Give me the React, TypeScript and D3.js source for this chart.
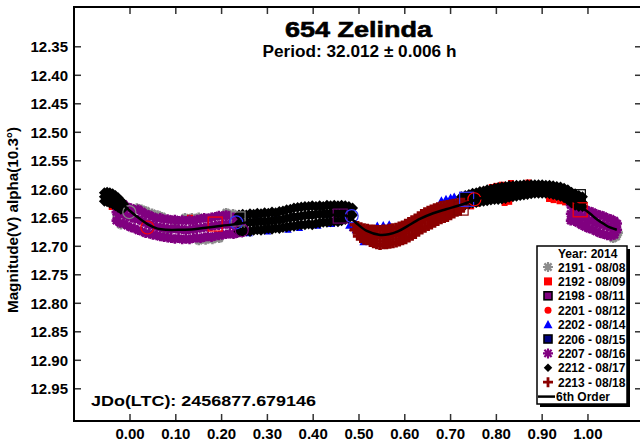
import React from "react";
import * as d3 from "d3";

// ---------- data ----------
const xTicks = [0, 0.1, 0.2, 0.3, 0.4, 0.5, 0.6, 0.7, 0.8, 0.9, 1.0];
const yTicks = [12.35, 12.4, 12.45, 12.5, 12.55, 12.6, 12.65, 12.7, 12.75, 12.8, 12.85, 12.9, 12.95];
const sessions = ["2191 - 08/08", "2192 - 08/09", "2198 - 08/11", "2201 - 08/12", "2202 - 08/14", "2206 - 08/15", "2207 - 08/16", "2212 - 08/17", "2213 - 08/18"];

// rows: [phase, mag, mag, ...]
const s2191: number[][] = [
  [-0.028, 12.647], [-0.020, 12.662], [0.015, 12.633], [0.025, 12.635], [0.035, 12.638], [0.048, 12.642],
  [0.060, 12.645], [0.070, 12.648], [0.120, 12.650], [0.135, 12.650], [0.150, 12.649, 12.690], [0.165, 12.689],
  [0.180, 12.688], [0.195, 12.686], [0.210, 12.641], [0.225, 12.643], [0.236, 12.650], [0.100, 12.668],
  [0.080, 12.675], [0.968, 12.650], [0.975, 12.652], [1.055, 12.686], [1.062, 12.683], [1.066, 12.676],
];
const s2192: number[][] = [
  [-0.056, 12.612], [-0.040, 12.631], [-0.013, 12.626], [0.131, 12.650],
  [0.735, 12.628], [0.745, 12.630], [0.765, 12.604], [0.775, 12.601], [0.790, 12.596], [0.800, 12.594],
  [0.812, 12.592], [0.832, 12.589], [0.818, 12.624], [0.828, 12.622], [0.915, 12.617], [0.925, 12.619],
  [0.938, 12.621], [0.950, 12.623], [0.870, 12.588],
];
const s2198: number[][] = [[0.452, 12.650], [0.462, 12.646], [0.470, 12.652]];
const s2201: number[][] = [[0.132, 12.651], [0.760, 12.626]];
const s2202: number[][] = [
  [0.260, 12.677], [0.300, 12.674], [0.345, 12.671], [0.370, 12.668], [0.410, 12.664], [0.440, 12.661],
  [0.478, 12.664], [0.486, 12.668], [0.492, 12.672], [0.509, 12.693], [0.540, 12.663], [0.553, 12.662],
  [0.566, 12.661], [0.659, 12.654], [0.680, 12.619], [0.690, 12.616], [0.700, 12.614], [0.708, 12.612],
  [0.721, 12.610],
];
const s2206: number[][] = [[0.280, 12.655], [0.320, 12.652], [0.360, 12.648], [0.400, 12.645], [0.430, 12.644], [0.470, 12.645]];
const s2207: number[][] = [
  [-0.030, 12.624, 12.640, 12.655], [-0.022, 12.627, 12.643, 12.659], [-0.014, 12.626, 12.644, 12.660],
  [-0.006, 12.631, 12.647, 12.664], [0.002, 12.633, 12.649, 12.667], [0.010, 12.636, 12.652, 12.669],
  [0.018, 12.635, 12.653, 12.672], [0.026, 12.639, 12.656, 12.674], [0.034, 12.643, 12.659, 12.677],
  [0.042, 12.645, 12.662, 12.678], [0.050, 12.648, 12.664, 12.680], [0.058, 12.651, 12.666, 12.681],
  [0.066, 12.650, 12.667, 12.683], [0.074, 12.653, 12.668, 12.684], [0.082, 12.652, 12.669, 12.685],
  [0.090, 12.654, 12.670, 12.686], [0.098, 12.653, 12.669, 12.687], [0.106, 12.655, 12.671, 12.686],
  [0.114, 12.654, 12.670, 12.688], [0.122, 12.655, 12.672, 12.687], [0.130, 12.654, 12.671, 12.688],
  [0.138, 12.656, 12.670, 12.686], [0.146, 12.653, 12.669, 12.685], [0.154, 12.652, 12.668, 12.686],
  [0.162, 12.650, 12.667, 12.684], [0.170, 12.651, 12.666, 12.683], [0.178, 12.649, 12.665, 12.684],
  [0.186, 12.648, 12.664, 12.682], [0.194, 12.646, 12.663, 12.681], [0.202, 12.647, 12.662, 12.680],
  [0.210, 12.645, 12.661, 12.679], [0.218, 12.647, 12.662, 12.678], [0.226, 12.648, 12.663, 12.679],
  [0.234, 12.649, 12.664, 12.677],
  [0.962, 12.628, 12.643, 12.655], [0.970, 12.626, 12.641, 12.656], [0.978, 12.628, 12.644, 12.659],
  [0.986, 12.631, 12.648, 12.663], [0.994, 12.635, 12.651, 12.666], [1.002, 12.638, 12.654, 12.669],
  [1.010, 12.640, 12.656, 12.671], [1.018, 12.643, 12.659, 12.674], [1.026, 12.645, 12.661, 12.677],
  [1.034, 12.647, 12.663, 12.679], [1.042, 12.650, 12.665, 12.681], [1.050, 12.652, 12.667, 12.682],
  [1.058, 12.655, 12.669, 12.680], [1.064, 12.660, 12.671],
];
const s2212: number[][] = [
  [-0.056, 12.606, 12.613, 12.621], [-0.050, 12.605, 12.613, 12.622], [-0.044, 12.606, 12.615, 12.624],
  [-0.038, 12.608, 12.617, 12.626], [-0.032, 12.611, 12.620, 12.629], [-0.026, 12.615, 12.624, 12.632],
  [-0.020, 12.620, 12.628, 12.635], [-0.014, 12.626, 12.633],
  [0.238, 12.645, 12.660, 12.674], [0.246, 12.644, 12.659, 12.675], [0.254, 12.645, 12.659, 12.673],
  [0.262, 12.643, 12.658, 12.674], [0.270, 12.644, 12.658, 12.672], [0.278, 12.642, 12.657, 12.671],
  [0.286, 12.643, 12.657, 12.672], [0.294, 12.641, 12.656, 12.670], [0.302, 12.642, 12.656, 12.669],
  [0.310, 12.640, 12.655, 12.670], [0.318, 12.641, 12.654, 12.668], [0.326, 12.639, 12.654, 12.669],
  [0.334, 12.638, 12.653, 12.667], [0.342, 12.636, 12.651, 12.666], [0.350, 12.635, 12.650, 12.665],
  [0.358, 12.633, 12.649, 12.665], [0.366, 12.632, 12.648, 12.663], [0.374, 12.631, 12.647, 12.662],
  [0.382, 12.630, 12.646, 12.662], [0.390, 12.630, 12.645, 12.661], [0.398, 12.629, 12.645, 12.662],
  [0.406, 12.630, 12.644, 12.660], [0.414, 12.629, 12.644, 12.659], [0.422, 12.630, 12.643, 12.658],
  [0.430, 12.628, 12.643, 12.658], [0.438, 12.629, 12.642, 12.657], [0.446, 12.628, 12.642, 12.656],
  [0.454, 12.629, 12.643, 12.657], [0.462, 12.628, 12.642, 12.655], [0.470, 12.629, 12.641, 12.653],
  [0.478, 12.630, 12.642, 12.651], [0.486, 12.633, 12.645],
  [0.724, 12.613, 12.621, 12.628], [0.732, 12.611, 12.619, 12.627], [0.740, 12.609, 12.617, 12.626],
  [0.748, 12.607, 12.615, 12.624], [0.756, 12.606, 12.614, 12.623], [0.764, 12.604, 12.613, 12.622],
  [0.772, 12.603, 12.611, 12.621], [0.780, 12.601, 12.610, 12.620], [0.788, 12.600, 12.609, 12.619],
  [0.796, 12.598, 12.608, 12.618], [0.804, 12.597, 12.607, 12.618], [0.812, 12.596, 12.606, 12.617],
  [0.820, 12.595, 12.605, 12.616], [0.828, 12.594, 12.603, 12.614], [0.836, 12.594, 12.603, 12.613],
  [0.844, 12.593, 12.602, 12.612], [0.852, 12.593, 12.601, 12.611], [0.860, 12.592, 12.600, 12.610],
  [0.868, 12.592, 12.600, 12.609], [0.876, 12.592, 12.599, 12.608], [0.884, 12.592, 12.599, 12.607],
  [0.892, 12.592, 12.599, 12.607], [0.900, 12.592, 12.599, 12.607], [0.908, 12.593, 12.600, 12.607],
  [0.916, 12.593, 12.600, 12.608], [0.924, 12.594, 12.601, 12.609], [0.932, 12.595, 12.603, 12.611],
  [0.940, 12.596, 12.604, 12.612], [0.948, 12.598, 12.607, 12.615], [0.956, 12.601, 12.610, 12.619],
  [0.964, 12.605, 12.614, 12.624], [0.972, 12.608, 12.618, 12.628], [0.980, 12.611, 12.621, 12.630],
  [0.988, 12.613, 12.623, 12.630],
];
const s2213: number[][] = [
  [0.490, 12.662, 12.671], [0.497, 12.664, 12.674, 12.682], [0.504, 12.666, 12.677, 12.686],
  [0.511, 12.668, 12.679, 12.689], [0.518, 12.669, 12.680, 12.690], [0.525, 12.670, 12.682, 12.693],
  [0.532, 12.670, 12.683, 12.695], [0.539, 12.671, 12.684, 12.697], [0.546, 12.671, 12.684, 12.698],
  [0.553, 12.670, 12.684, 12.697], [0.560, 12.670, 12.683, 12.697], [0.567, 12.669, 12.683, 12.696],
  [0.574, 12.668, 12.681, 12.695], [0.581, 12.667, 12.680, 12.694], [0.588, 12.665, 12.678, 12.692],
  [0.595, 12.663, 12.676, 12.690], [0.602, 12.660, 12.673, 12.688], [0.609, 12.657, 12.670, 12.685],
  [0.616, 12.654, 12.667, 12.682], [0.623, 12.651, 12.664, 12.679], [0.630, 12.647, 12.660, 12.675],
  [0.637, 12.643, 12.657, 12.671], [0.644, 12.640, 12.653, 12.668], [0.651, 12.637, 12.650, 12.665],
  [0.658, 12.635, 12.647, 12.662], [0.665, 12.633, 12.645, 12.659], [0.672, 12.631, 12.643, 12.656],
  [0.679, 12.629, 12.641, 12.653], [0.686, 12.628, 12.639, 12.651], [0.693, 12.627, 12.637, 12.649],
  [0.700, 12.626, 12.635, 12.646], [0.707, 12.625, 12.633, 12.643], [0.714, 12.624, 12.631, 12.640],
  [0.721, 12.623, 12.630, 12.638], [0.728, 12.623, 12.631],
];
// large open markers
const openPhase = [-0.0015, 0.038, 0.186, 0.236, 0.232, 0.244, 0.459, 0.484, 0.723, 0.735, 0.752, 0.979, 0.983];
const openMag = [12.640, 12.667, 12.661, 12.652, 12.658, 12.672, 12.647, 12.647, 12.633, 12.6175, 12.6175, 12.613, 12.636];
const openKind = ["circle", "circle", "square", "square", "circle", "circle", "square", "circle", "square", "square", "circle", "square", "square"];
const openColor = ["#888888", "#ff0000", "#ff0000", "#888888", "#3333ff", "#800080", "#660066", "#3333ff", "#800000", "#3333ff", "#ff0000", "#000000", "#ff0000"];

const fitCurve: [number, number][] = [
  [-0.045, 12.611], [-0.030, 12.617], [-0.015, 12.627], [0.000, 12.638], [0.020, 12.651], [0.040, 12.662],
  [0.060, 12.669], [0.080, 12.671], [0.110, 12.671], [0.140, 12.670], [0.170, 12.667], [0.200, 12.664],
  [0.234, 12.661], [0.262, 12.657], [0.300, 12.653], [0.330, 12.651], [0.370, 12.648], [0.400, 12.647],
  [0.440, 12.645], [0.465, 12.645], [0.480, 12.649], [0.495, 12.660], [0.517, 12.673], [0.546, 12.680],
  [0.565, 12.679], [0.585, 12.674], [0.605, 12.665], [0.633, 12.652], [0.662, 12.642], [0.690, 12.635],
  [0.720, 12.628], [0.760, 12.617], [0.800, 12.609], [0.840, 12.603], [0.870, 12.600], [0.900, 12.599],
  [0.925, 12.601], [0.945, 12.606], [0.960, 12.614], [0.975, 12.625], [0.990, 12.634], [1.005, 12.643],
  [1.020, 12.653], [1.035, 12.661], [1.048, 12.667], [1.063, 12.671],
];

// ---------- styles ----------
const seriesData = [s2191, s2192, s2198, s2201, s2202, s2206, s2207, s2212, s2213];
const seriesShape = ["asterisk", "square", "squareB", "circle", "triangle", "squareB", "asterisk", "diamond", "plus"];
const seriesColor = ["#8c8c8c", "#ff0000", "#800080", "#ff0000", "#0000ff", "#000080", "#800080", "#000000", "#8b0000"];

const W = 640, H = 445;
const L = 74, R = 642, T = 7, B = 421;
const FONT = "'Liberation Sans', Arial, sans-serif";

function Marker({ shape, x, y, s, color, legend }: { shape: string; x: number; y: number; s: number; color: string; legend?: boolean }) {
  const h = s / 2;
  switch (shape) {
    case "asterisk": {
      const d = h * 0.72;
      return (
        <path
          d={`M${x - h},${y}H${x + h}M${x},${y - h}V${y + h}M${x - d},${y - d}L${x + d},${y + d}M${x - d},${y + d}L${x + d},${y - d}`}
          stroke={color} strokeWidth={legend ? 2.2 : 2.6} fill="none"
        />
      );
    }
    case "square":
      return <rect x={x - h} y={y - h} width={s} height={s} fill={color} />;
    case "squareB":
      return <rect x={x - h} y={y - h} width={s} height={s} fill={color} stroke="#000" strokeWidth={legend ? 1.6 : 0.8} />;
    case "circle":
      return <circle cx={x} cy={y} r={h} fill={color} />;
    case "triangle":
      return <path d={`M${x},${y - h}L${x + h},${y + h * 0.8}L${x - h},${y + h * 0.8}Z`} fill={color} />;
    case "diamond":
      return <path d={`M${x},${y - h}L${x + h},${y}L${x},${y + h}L${x - h},${y}Z`} fill={color} />;
    case "plus":
      return <path d={`M${x - h},${y}H${x + h}M${x},${y - h}V${y + h}`} stroke={color} strokeWidth={legend ? 2.8 : 3.6} fill="none" />;
    default:
      return null;
  }
}

const plotSize: Record<string, number> = { asterisk: 9.5, square: 6, squareB: 6.5, circle: 6, triangle: 7.5, diamond: 11, plus: 9.5 };
const legendSize: Record<string, number> = { asterisk: 10, square: 8, squareB: 8, circle: 7, triangle: 9, diamond: 8.5, plus: 10 };

export default function App() {
  const x = d3.scaleLinear().domain([-0.1223, 1.118]).range([L, R]);
  const y = d3.scaleLinear().domain([12.2802, 13.0065]).range([T, B]);
  const line = d3.line<[number, number]>().x((d) => x(d[0])).y((d) => y(d[1])).curve(d3.curveCatmullRom);

  const legendX = 537, legendY = 246, legendW = 90, legendH = 158;
  const rowY0 = 267, rowStep = 14.4;

  return (
    <svg width={W} height={H} style={{ position: "absolute", left: 0, top: 0, background: "#fff" }} fontFamily={FONT}>
      <rect x={0} y={0} width={W} height={H} fill="#fff" />
      <defs>
        <clipPath id="plotclip">
          <rect x={L} y={T} width={R - L} height={B - T} />
        </clipPath>
      </defs>

      {/* ticks */}
      {xTicks.map((t) => (
        <g key={"xt" + t} stroke="#333" strokeWidth={1.5}>
          <line x1={x(t)} x2={x(t)} y1={B} y2={B - 7} />
          <line x1={x(t)} x2={x(t)} y1={T} y2={T + 7} />
        </g>
      ))}
      {yTicks.map((t) => (
        <g key={"yt" + t} stroke="#333" strokeWidth={1.5}>
          <line x1={L} x2={L + 7} y1={y(t)} y2={y(t)} />
          <line x1={R} x2={R - 7} y1={y(t)} y2={y(t)} />
        </g>
      ))}

      {/* data */}
      <g clipPath="url(#plotclip)">
        {seriesData.map((rows, si) =>
          rows.flatMap((r, ri) =>
            r.slice(1).map((m, mi) => (
              <Marker key={`p${si}-${ri}-${mi}`} shape={seriesShape[si]} x={x(r[0])} y={y(m)} s={plotSize[seriesShape[si]]} color={seriesColor[si]} />
            ))
          )
        )}
        {openPhase.map((p, i) =>
          openKind[i] === "circle" ? (
            <circle key={"o" + i} cx={x(p)} cy={y(openMag[i])} r={6.5} fill="none" stroke={openColor[i]} strokeWidth={1.2} />
          ) : (
            <rect key={"o" + i} x={x(p) - 7} y={y(openMag[i]) - 7} width={14} height={14} fill="none" stroke={openColor[i]} strokeWidth={1.2} />
          )
        )}
        <path d={line(fitCurve) || ""} fill="none" stroke="#000" strokeWidth={2.5} />
      </g>

      {/* frame */}
      <rect x={L} y={T} width={R - L} height={B - T} fill="none" stroke="#000" strokeWidth={2} />

      {/* tick labels */}
      {xTicks.map((t) => (
        <text key={"xl" + t} x={x(t)} y={439} textAnchor="middle" fontSize={15} fontWeight="bold">
          {t.toFixed(2)}
        </text>
      ))}
      {yTicks.map((t) => (
        <text key={"yl" + t} x={68} y={y(t) + 5.5} textAnchor="end" fontSize={15} fontWeight="bold">
          {t.toFixed(2)}
        </text>
      ))}

      {/* axis title */}
      <text transform="translate(18,220) rotate(-90)" textAnchor="middle" fontSize={15} fontWeight="bold" textLength={186} lengthAdjust="spacingAndGlyphs">
        Magnitude(V) alpha(10.3°)
      </text>

      {/* titles */}
      <text x={358.5} y={37} textAnchor="middle" fontSize={22.5} fontWeight="bold" stroke="#000" strokeWidth={0.6} textLength={147} lengthAdjust="spacingAndGlyphs">
        654 Zelinda
      </text>
      <text x={359.5} y={57} textAnchor="middle" fontSize={17.2} fontWeight="bold">
        Period: 32.012 ± 0.006 h
      </text>
      <text x={91} y={406} fontSize={15.5} fontWeight="bold" textLength={225} lengthAdjust="spacingAndGlyphs">
        JDo(LTC): 2456877.679146
      </text>

      {/* legend */}
      <rect x={legendX + 3} y={legendY + 3} width={legendW} height={legendH} fill="#000" />
      <rect x={legendX} y={legendY} width={legendW} height={legendH} fill="#fff" stroke="#000" strokeWidth={1.5} />
      <text x={558} y={257.5} fontSize={12} fontWeight="bold">Year: 2014</text>
      {sessions.map((name, i) => (
        <g key={"lg" + i}>
          <Marker shape={seriesShape[i]} x={548} y={rowY0 + i * rowStep} s={legendSize[seriesShape[i]]} color={seriesColor[i]} legend />
          <text x={558} y={rowY0 + i * rowStep + 4.5} fontSize={12} fontWeight="bold">{name}</text>
        </g>
      ))}
      <line x1={538} x2={555} y1={rowY0 + 9 * rowStep} y2={rowY0 + 9 * rowStep} stroke="#000" strokeWidth={2.5} />
      <text x={556} y={rowY0 + 9 * rowStep + 4.5} fontSize={12} fontWeight="bold">6th Order</text>
    </svg>
  );
}
